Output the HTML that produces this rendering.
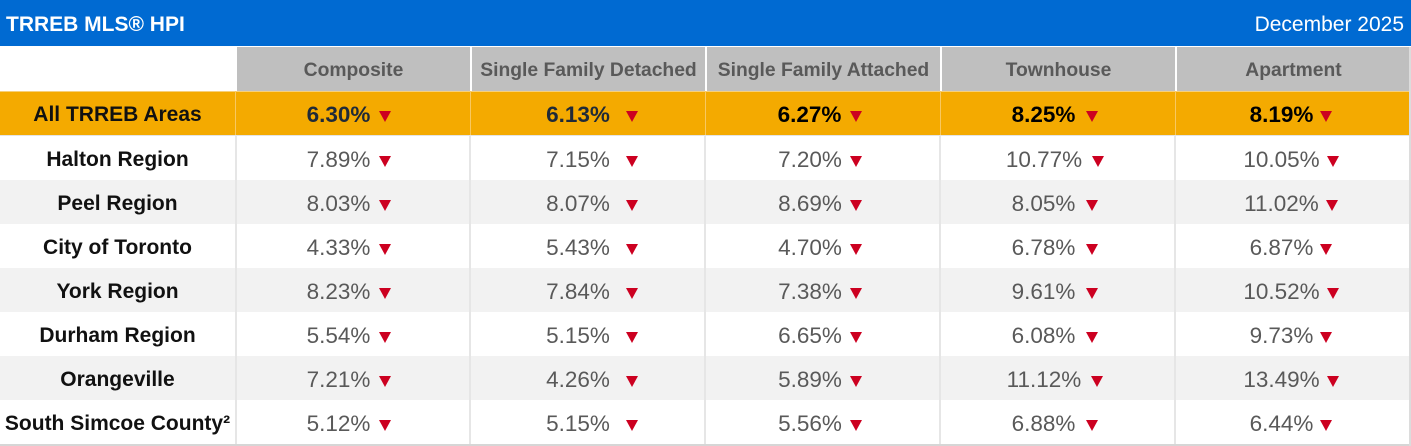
<!DOCTYPE html>
<html><head><meta charset="utf-8">
<style>
*{margin:0;padding:0;box-sizing:border-box}
html,body{width:1411px;height:446px;background:#fff;overflow:hidden;font-family:"Liberation Sans",Arial,sans-serif}
#wrap{position:relative;width:1411px;height:446px}
.bar{position:absolute;left:0;top:0;width:1411px;height:46px;background:#006ad2;color:#fff;font-size:21px;line-height:46px}
.bar .t{position:absolute;left:6px;top:2px;font-weight:bold}
.bar .d{position:absolute;right:7px;top:2px}
.c{position:absolute;display:flex;align-items:center;justify-content:center;white-space:nowrap;padding-top:4px}
.h{top:47px;height:44px;background:#bfbfbf;color:#595959;font-weight:bold;font-size:19.3px;border-left:2px solid #fff}
.lab{left:0;width:235px;font-weight:bold;font-size:21px;color:#111}
.v{font-size:22.5px;color:#595959}
.tri{display:inline-block;width:0;height:0;border-left:6px solid transparent;border-right:6px solid transparent;border-top:11px solid #cc0020;position:relative;top:1.5px}
.vl{position:absolute;width:2px;background:#e6e6e6}
.vo{position:absolute;width:1px;background:#f8c860}
</style></head><body><div id="wrap">
<div class="bar"><span class="t">TRREB MLS® HPI</span><span class="d">December 2025</span></div>

<!-- header -->
<div class="c h" style="left:235px;width:235px">Composite</div>
<div class="c h" style="left:470px;width:235px">Single Family Detached</div>
<div class="c h" style="left:705px;width:235px">Single Family Attached</div>
<div class="c h" style="left:940px;width:235px">Townhouse</div>
<div class="c h" style="left:1175px;width:235px">Apartment</div>

<!-- row backgrounds -->
<div style="position:absolute;left:0;top:91px;width:1410px;height:44px;background:#f4aa00;border-top:1px solid #f6d07a"></div>
<div style="position:absolute;left:0;top:135px;width:1410px;height:1px;background:#e4e4e4"></div>
<div style="position:absolute;left:0;top:180px;width:1410px;height:44px;background:#f2f2f2"></div>
<div style="position:absolute;left:0;top:268px;width:1410px;height:44px;background:#f2f2f2"></div>
<div style="position:absolute;left:0;top:356px;width:1410px;height:44px;background:#f2f2f2"></div>
<div style="position:absolute;left:0;top:444px;width:1411px;height:2px;background:#d6d6d6"></div>

<!-- vertical lines -->
<div class="vo" style="left:235px;top:91px;height:44px"></div>
<div class="vo" style="left:470px;top:91px;height:44px"></div>
<div class="vo" style="left:705px;top:91px;height:44px"></div>
<div class="vo" style="left:940px;top:91px;height:44px"></div>
<div class="vo" style="left:1175px;top:91px;height:44px"></div>
<div class="vl" style="left:235px;top:136px;height:308px"></div>
<div class="vl" style="left:469px;top:136px;height:308px"></div>
<div class="vl" style="left:704px;top:136px;height:308px"></div>
<div class="vl" style="left:939px;top:136px;height:308px"></div>
<div class="vl" style="left:1174px;top:136px;height:308px"></div>
<div class="vl" style="left:1409px;top:47px;height:399px;background:#dcdcdc"></div>

<!-- labels -->
<div class="c lab" style="top:91px;height:44px">All TRREB Areas</div>
<div class="c lab" style="top:135px;height:45px">Halton Region</div>
<div class="c lab" style="top:180px;height:44px">Peel Region</div>
<div class="c lab" style="top:224px;height:44px">City of Toronto</div>
<div class="c lab" style="top:268px;height:44px">York Region</div>
<div class="c lab" style="top:312px;height:44px">Durham Region</div>
<div class="c lab" style="top:356px;height:44px">Orangeville</div>
<div class="c lab" style="top:400px;height:44px">South Simcoe County²</div>

<!-- values: Composite (left 235) -->
<div class="c v" style="left:237px;width:232px;top:91px;height:44px;padding-right:8px;font-weight:bold;color:#1f2a38">6.30%<span class="tri" style="margin-left:9px"></span></div>
<div class="c v" style="left:237px;width:232px;top:135px;height:45px;padding-right:8px">7.89%<span class="tri" style="margin-left:9px"></span></div>
<div class="c v" style="left:237px;width:232px;top:180px;height:44px;padding-right:8px">8.03%<span class="tri" style="margin-left:9px"></span></div>
<div class="c v" style="left:237px;width:232px;top:224px;height:44px;padding-right:8px">4.33%<span class="tri" style="margin-left:9px"></span></div>
<div class="c v" style="left:237px;width:232px;top:268px;height:44px;padding-right:8px">8.23%<span class="tri" style="margin-left:9px"></span></div>
<div class="c v" style="left:237px;width:232px;top:312px;height:44px;padding-right:8px">5.54%<span class="tri" style="margin-left:9px"></span></div>
<div class="c v" style="left:237px;width:232px;top:356px;height:44px;padding-right:8px">7.21%<span class="tri" style="margin-left:9px"></span></div>
<div class="c v" style="left:237px;width:232px;top:400px;height:44px;padding-right:8px">5.12%<span class="tri" style="margin-left:9px"></span></div>

<!-- SFD -->
<div class="c v" style="left:471px;width:233px;top:91px;height:44px;padding-left:9px;font-weight:bold;color:#1f2a38">6.13%<span class="tri" style="margin-left:16px"></span></div>
<div class="c v" style="left:471px;width:233px;top:135px;height:45px;padding-left:9px">7.15%<span class="tri" style="margin-left:16px"></span></div>
<div class="c v" style="left:471px;width:233px;top:180px;height:44px;padding-left:9px">8.07%<span class="tri" style="margin-left:16px"></span></div>
<div class="c v" style="left:471px;width:233px;top:224px;height:44px;padding-left:9px">5.43%<span class="tri" style="margin-left:16px"></span></div>
<div class="c v" style="left:471px;width:233px;top:268px;height:44px;padding-left:9px">7.84%<span class="tri" style="margin-left:16px"></span></div>
<div class="c v" style="left:471px;width:233px;top:312px;height:44px;padding-left:9px">5.15%<span class="tri" style="margin-left:16px"></span></div>
<div class="c v" style="left:471px;width:233px;top:356px;height:44px;padding-left:9px">4.26%<span class="tri" style="margin-left:16px"></span></div>
<div class="c v" style="left:471px;width:233px;top:400px;height:44px;padding-left:9px">5.15%<span class="tri" style="margin-left:16px"></span></div>

<!-- SFA -->
<div class="c v" style="left:706px;width:233px;top:91px;height:44px;padding-right:5px;font-weight:bold;color:#000">6.27%<span class="tri" style="margin-left:9px"></span></div>
<div class="c v" style="left:706px;width:233px;top:135px;height:45px;padding-right:5px">7.20%<span class="tri" style="margin-left:8px"></span></div>
<div class="c v" style="left:706px;width:233px;top:180px;height:44px;padding-right:5px">8.69%<span class="tri" style="margin-left:8px"></span></div>
<div class="c v" style="left:706px;width:233px;top:224px;height:44px;padding-right:5px">4.70%<span class="tri" style="margin-left:8px"></span></div>
<div class="c v" style="left:706px;width:233px;top:268px;height:44px;padding-right:5px">7.38%<span class="tri" style="margin-left:8px"></span></div>
<div class="c v" style="left:706px;width:233px;top:312px;height:44px;padding-right:5px">6.65%<span class="tri" style="margin-left:8px"></span></div>
<div class="c v" style="left:706px;width:233px;top:356px;height:44px;padding-right:5px">5.89%<span class="tri" style="margin-left:8px"></span></div>
<div class="c v" style="left:706px;width:233px;top:400px;height:44px;padding-right:5px">5.56%<span class="tri" style="margin-left:8px"></span></div>

<!-- Townhouse -->
<div class="c v" style="left:941px;width:233px;top:91px;height:44px;padding-right:5px;font-weight:bold;color:#000">8.25%<span class="tri" style="margin-left:11px"></span></div>
<div class="c v" style="left:941px;width:233px;top:135px;height:45px;padding-right:5px">10.77%<span class="tri" style="margin-left:10px"></span></div>
<div class="c v" style="left:941px;width:233px;top:180px;height:44px;padding-right:5px">8.05%<span class="tri" style="margin-left:11px"></span></div>
<div class="c v" style="left:941px;width:233px;top:224px;height:44px;padding-right:5px">6.78%<span class="tri" style="margin-left:11px"></span></div>
<div class="c v" style="left:941px;width:233px;top:268px;height:44px;padding-right:5px">9.61%<span class="tri" style="margin-left:11px"></span></div>
<div class="c v" style="left:941px;width:233px;top:312px;height:44px;padding-right:5px">6.08%<span class="tri" style="margin-left:11px"></span></div>
<div class="c v" style="left:941px;width:233px;top:356px;height:44px;padding-right:5px">11.12%<span class="tri" style="margin-left:10px"></span></div>
<div class="c v" style="left:941px;width:233px;top:400px;height:44px;padding-right:5px">6.88%<span class="tri" style="margin-left:11px"></span></div>

<!-- Apartment -->
<div class="c v" style="left:1176px;width:233px;top:91px;height:44px;padding-right:3px;font-weight:bold;color:#000">8.19%<span class="tri" style="margin-left:7px"></span></div>
<div class="c v" style="left:1176px;width:233px;top:135px;height:45px;padding-right:3px">10.05%<span class="tri" style="margin-left:7px"></span></div>
<div class="c v" style="left:1176px;width:233px;top:180px;height:44px;padding-right:3px">11.02%<span class="tri" style="margin-left:7px"></span></div>
<div class="c v" style="left:1176px;width:233px;top:224px;height:44px;padding-right:3px">6.87%<span class="tri" style="margin-left:7px"></span></div>
<div class="c v" style="left:1176px;width:233px;top:268px;height:44px;padding-right:3px">10.52%<span class="tri" style="margin-left:7px"></span></div>
<div class="c v" style="left:1176px;width:233px;top:312px;height:44px;padding-right:3px">9.73%<span class="tri" style="margin-left:7px"></span></div>
<div class="c v" style="left:1176px;width:233px;top:356px;height:44px;padding-right:3px">13.49%<span class="tri" style="margin-left:7px"></span></div>
<div class="c v" style="left:1176px;width:233px;top:400px;height:44px;padding-right:3px">6.44%<span class="tri" style="margin-left:7px"></span></div>
</div></body></html>
